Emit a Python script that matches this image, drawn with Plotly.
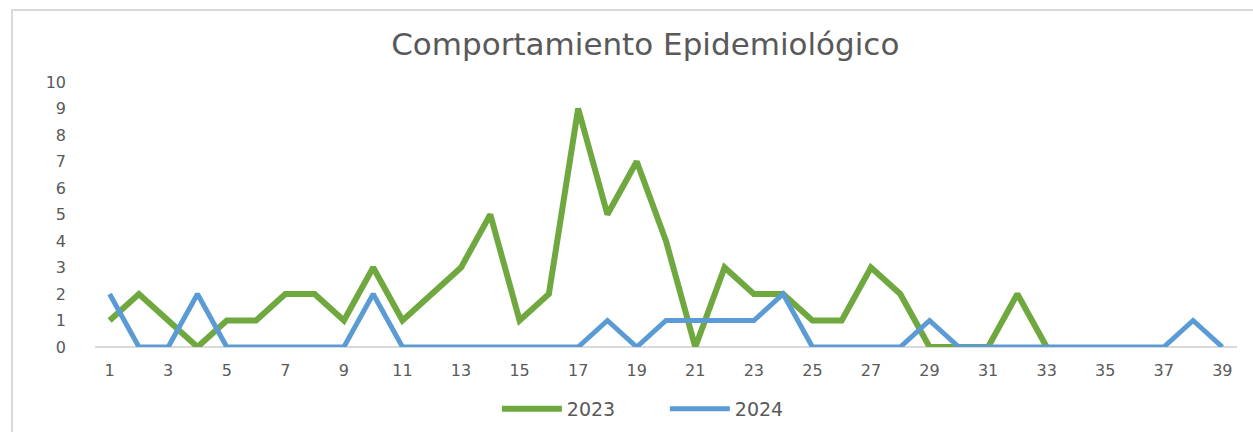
import plotly.graph_objects as go

weeks = list(range(1, 40))
cases_2023 = [1, 2, 1, 0, 1, 1, 2, 2, 1, 3,
              1, 2, 3, 5, 1, 2, 9, 5, 7, 4,
              0, 3, 2, 2, 1, 1, 3, 2, 0, 0,
              0, 2, 0, None, None, None, None, None, None]
cases_2024 = [2, 0, 0, 2, 0, 0, 0, 0, 0, 2,
              0, 0, 0, 0, 0, 0, 0, 1, 0, 1,
              1, 1, 1, 2, 0, 0, 0, 0, 1, 0,
              0, 0, 0, 0, 0, 0, 0, 1, 0]
x_ticks = list(range(1, 40, 2))
y_ticks = list(range(0, 11))

GRAY = "#595959"
fig = go.Figure()
fig.add_trace(go.Scatter(x=weeks, y=cases_2023, mode="lines", name="2023",
                         line=dict(color="#6FA83F", width=6), connectgaps=False))
fig.add_trace(go.Scatter(x=weeks, y=cases_2024, mode="lines", name="2024",
                         line=dict(color="#5B9BD5", width=5)))

W, H = 1253, 432
ml, mr, mt, mb = 95, 16, 82, 85
pw, ph = W - ml - mr, H - mt - mb

def px_to_paper_x(px):
    return (px - ml) / pw

def px_to_paper_y(py):
    return (H - mb - py) / ph

fig.update_layout(
    width=W, height=H,
    margin=dict(l=ml, r=mr, t=mt, b=mb, autoexpand=False),
    paper_bgcolor="white", plot_bgcolor="white",
    title=dict(text="Comportamiento Epidemiológico", x=0.515, xanchor="center",
               y=1 - 44 / H, yanchor="middle", yref="container",
               font=dict(family="DejaVu Sans", size=31, color=GRAY)),
    xaxis=dict(range=[0.5, 39.5], tickmode="array", tickvals=x_ticks,
               ticktext=[str(v) for v in x_ticks], showgrid=False, zeroline=False,
               showline=False, ticks="", ticklabelstandoff=12,
               tickfont=dict(family="DejaVu Sans", size=16, color=GRAY), automargin=False),
    yaxis=dict(range=[0, 10], tickmode="array", tickvals=y_ticks,
               showgrid=False, zeroline=True, zerolinecolor="#D9D9D9", zerolinewidth=1.5,
               showline=False, ticks="", ticklabelstandoff=28,
               tickfont=dict(family="DejaVu Sans", size=16, color=GRAY), automargin=False),
    showlegend=True,
    legend=dict(orientation="h", x=0.499, xanchor="center", y=px_to_paper_y(409),
                yanchor="middle", font=dict(family="DejaVu Sans", size=19, color=GRAY),
                itemwidth=60, entrywidth=93, bgcolor="rgba(0,0,0,0)"),
    shapes=[dict(type="rect", xref="paper", yref="paper",
                 x0=px_to_paper_x(12), x1=px_to_paper_x(1270),
                 y0=px_to_paper_y(450), y1=px_to_paper_y(10),
                 line=dict(color="#D9D9D9", width=2), fillcolor="rgba(0,0,0,0)",
                 layer="below")],
)

fig.write_html("out.html", post_script="document.body.style.margin='0';",
               config={"displayModeBar": False})
